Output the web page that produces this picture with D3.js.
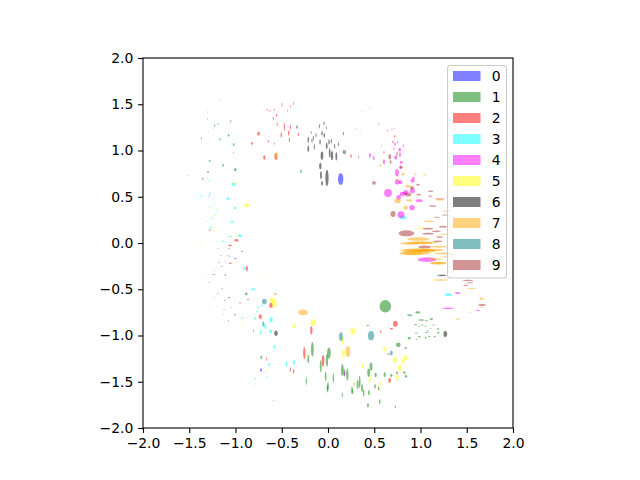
<!DOCTYPE html>
<html>
<head>
<meta charset="utf-8">
<script src="https://cdn.jsdelivr.net/npm/d3@7"></script>
<style>
  html, body { margin: 0; padding: 0; background: #fff; }
  text { font-family: "DejaVu Sans", sans-serif; }
</style>
</head>
<body>
<script>
// each row: x, y, width, height (data units)
var digit0 = [[.137,.692,.058,.13],[-1.19,-.058,.025,.005],[-1.07,-.058,.025,.008],[-.926,-.09,.03,.01],[-1.157,-.133,.02,.004],[-1.08,-.133,.02,.006],[-1.063,-.144,.02,.006],[-1,-.169,.025,.016],[-1.178,-.209,.025,.007],[-1.117,-.198,.015,.004],[-1.103,-.22,.012,.005],[-1.15,-.252,.025,.008],[-1.333,-.259,.008,.003],[-1.308,-.241,.01,.003],[-1.225,-.295,.015,.004],[-1.351,-.328,.012,.004],[-1.315,-.328,.008,.003],[-1.236,-.339,.04,.006],[-1.11,-.346,.016,.014],[-1.398,-.436,.012,.003],[-1.29,-.425,.02,.006],[-1.377,-.523,.012,.004],[-1.193,-.544,.02,.007],[-1.232,-.587,.012,.004],[-1.041,-.695,.015,.007],[-1.124,-.717,.015,.007],[-1.005,-.775,.018,.014],[-1.13,-.771,.012,.005],[-1.077,-.84,.01,.014],[-.724,-1.373,.02,.04],[-1.294,-.663,.01,.004],[-1.355,.695,.018,.016],[-1.506,.732,.015,.006],[-1.55,-.649,.01,.003],[-1.53,-.649,.01,.003],[-1.452,-.649,.01,.003],[-1.387,-.62,.01,.003],[-1.351,-.685,.01,.003],[-1.142,-1.052,.006,.004],[-1.434,-1.19,.005,.004]];
var digit1 = [[.62,-.685,.125,.135],[.76,-1.1,.05,.05],[.97,-.75,.055,.022],[1.009,-.832,.07,.016],[1.063,-.84,.04,.012],[1.117,-.822,.035,.02],[.948,-.883,.03,.012],[.984,-.9,.025,.01],[1.02,-.886,.03,.012],[1.052,-.897,.03,.01],[1.142,-.886,.025,.012],[1.189,-.93,.03,.015],[1.11,-.923,.025,.01],[1.08,-.948,.025,.012],[1.067,-.966,.03,.012],[1.193,-.969,.025,.018],[.879,-1.03,.035,.025],[.958,-1.04,.025,.01],[.987,-1.013,.03,.015],[1.056,-1.023,.02,.02],[1.095,-1.009,.03,.012],[1.153,-1.013,.025,.015],[.84,-1.135,.025,.02],[.465,-1.337,.03,.09],[.44,-1.402,.03,.09],[.515,-1.427,.025,.05],[.613,-1.423,.025,.05],[.685,-1.43,.025,.035],[.825,-1.402,.025,.03],[.843,-1.441,.025,.03],[.508,-1.55,.018,.05],[.548,-1.575,.018,.045],[.443,-1.618,.02,.06],[.559,-1.715,.018,.05],[.432,-1.755,.02,.05],[.728,-1.77,.012,.03],[.155,-1.373,.03,.13],[.209,-1.423,.025,.13],[.177,-1.405,.02,.08],[.058,-1.459,.015,.1],[0,-1.55,.02,.09],[.01,-1.19,.04,.12],[.342,-1.503,.02,.13],[.32,-1.53,.02,.1],[.368,-1.568,.02,.09],[.386,-1.62,.015,.08],[.26,-1.593,.02,.08],[.27,-1.61,.012,.05],[.155,-1.643,.012,.06],[-.169,-1.15,.03,.16],[-.213,-1.254,.02,.09],[-.011,-1.268,.025,.14],[-.079,-1.333,.02,.13],[-.025,-1.441,.018,.1],[-.234,-1.495,.012,.08],[-.007,-1.575,.015,.08],[-.721,-1.236,.018,.04],[-1.297,.768,.02,.02]];
var digit2 = [[-.562,.937,.035,.08],[-.688,.923,.025,.05],[-.75,1.182,.03,.04],[-.822,1.077,.02,.03],[-.645,1.099,.012,.03],[-.58,1.074,.012,.02],[-.505,1.168,.015,.06],[-.425,1.19,.015,.06],[-.418,1.117,.012,.06],[-.472,1.254,.012,.09],[-.407,1.25,.012,.05],[-.321,1.175,.012,.04],[-.548,1.283,.012,.035],[-.591,1.348,.012,.035],[-.555,1.38,.012,.04],[-.627,1.427,.01,.025],[-.656,1.438,.01,.02],[-.58,1.441,.01,.02],[-.497,1.495,.01,.05],[-.44,1.431,.01,.025],[-.404,1.474,.01,.025],[-.375,1.506,.01,.03],[-.18,1.193,.012,.03],[.249,.941,.015,.045],[.605,.98,.012,.03],[-.991,.029,.045,.03],[-1.279,.141,.015,.02],[-1.059,-.025,.04,.02],[-1.056,-.22,.03,.018],[-.876,-.277,.02,.065],[-1.146,-.494,.018,.012],[-.865,-.609,.025,.012],[-.616,-.674,.04,.055],[-.732,-.796,.035,.05],[-.804,-.948,.012,.02],[-.18,-.944,.025,.09],[-.256,-1.189,.025,.13],[-.054,-1.272,.03,.13],[-.407,-1.369,.012,.05],[-.371,-1.387,.015,.05],[-.667,-1.254,.01,.04],[-.677,-1.398,.01,.01],[-.591,-1.701,.008,.02],[.728,-.872,.05,.065],[.685,-.926,.035,.02],[.432,-.89,.03,.012],[.569,-.959,.018,.025],[.667,-1.485,.03,.055],[1.488,-.458,.05,.015]];
var digit3 = [[-1.02,.634,.04,.04],[-1.081,.479,.04,.03],[-1.005,.378,.03,.03],[-1.034,.227,.04,.022],[-.951,.079,.045,.03],[-1.059,.072,.04,.012],[-1.132,.018,.03,.016],[-1.279,.53,.02,.025],[-1.286,.505,.02,.012],[-1.366,.508,.025,.015],[-1.283,.67,.018,.018],[-1.301,.71,.01,.015],[-1.456,.613,.015,.008],[-1.434,.548,.015,.01],[-1.452,.486,.01,.01],[-1.323,.436,.015,.008],[-1.243,.45,.015,.01],[-1.279,.386,.018,.012],[-1.477,.386,.01,.006],[-1.2,.357,.015,.015],[-1.218,.306,.015,.012],[-1.24,.281,.012,.01],[-1.265,.263,.02,.015],[-1.348,.267,.018,.008],[-1.521,.31,.008,.006],[-1.488,.234,.008,.006],[-1.305,.234,.015,.008],[-1.265,.166,.02,.018],[.811,.277,.07,.04],[.35,1.211,.006,.02],[-.901,-.277,.035,.035],[-.81,-.501,.05,.025],[-.757,-.695,.025,.025],[-.717,-.677,.02,.02],[-.768,-.742,.02,.02],[-.786,-.814,.02,.035],[-.616,-.829,.04,.06],[-.677,-.904,.025,.055],[-.62,-.955,.03,.045],[-.728,-.969,.02,.04],[-.933,-.811,.015,.02],[-.58,-1.121,.02,.04],[-.638,-1.315,.018,.04],[-.447,-1.308,.02,.065],[-.368,-1.29,.025,.055],[-.786,-1.467,.01,.03],[-.659,-1.445,.018,.015],[-.793,-1.524,.006,.03],[-.905,-1.139,.008,.012],[1.301,-.559,.08,.03]];
var digit4 = [[.649,.541,.085,.085],[.789,.306,.075,.075],[.908,.382,.06,.055],[.912,.566,.055,.055],[.915,.674,.045,.04],[.923,.703,.03,.025],[.8,.53,.05,.05],[.764,.494,.05,.055],[.843,.548,.055,.05],[.829,.537,.04,.04],[.75,.659,.055,.055],[.786,.659,.04,.04],[.746,.76,.04,.08],[.782,.818,.02,.045],[.793,.872,.03,.035],[.732,.923,.035,.045],[.778,.955,.02,.05],[.775,1.009,.03,.04],[.714,1.02,.015,.025],[.724,1.07,.018,.04],[.814,1.052,.012,.035],[.753,1.088,.015,.025],[.605,.879,.025,.055],[.454,.948,.02,.055],[.494,.919,.02,.045],[.328,.93,.012,.03],[.645,1.214,.01,.025],[.717,1.24,.01,.02],[.692,1.225,.01,.02],[.548,1.286,.01,.02],[.306,1.24,.008,.02],[.371,1.42,.006,.015],[.458,1.459,.006,.015],[.577,1.045,.01,.015],[.166,.987,.012,.035],[.987,.458,.075,.03],[1.07,-.18,.2,.05],[1.297,-.706,.11,.02],[1.402,-.541,.06,.02],[1.618,-.728,.05,.012],[.18,-1.413,.015,.05],[-.951,-.649,.02,.015]];
var digit5 = [[-.879,.407,.05,.05],[-.998,.649,.02,.02],[-.551,.951,.02,.07],[-1.186,.371,.02,.012],[-1.232,.141,.02,.015],[-1.222,.306,.015,.012],[-.98,.076,.02,.02],[-1.369,.014,.012,.015],[-.995,-.205,.025,.012],[-1.132,-.22,.02,.01],[-.674,-.389,.02,.012],[-.602,-.62,.055,.065],[-.58,-.659,.05,.08],[-.76,-.735,.012,.02],[-.364,-.901,.04,.05],[-.159,-.861,.06,.075],[-.905,-.811,.012,.015],[-.905,-.908,.012,.015],[-1.002,-.89,.01,.01],[-.223,-1.218,.018,.06],[.267,-.951,.055,.075],[.159,-1.056,.03,.075],[.166,-1.193,.035,.085],[.375,-1.33,.025,.065],[.613,-1.146,.035,.05],[.724,-1.268,.045,.07],[.811,-1.279,.035,.055],[.84,-1.243,.04,.06],[.775,-1.348,.04,.065],[.746,-1.452,.035,.055],[.461,-1.467,.02,.05],[.447,-1.499,.015,.05],[.566,-1.524,.015,.04],[1.002,.159,.08,.015]];
var digit6 = [[-.065,.944,.03,.09],[-.083,.832,.025,.07],[-.076,.732,.02,.085],[-.011,.703,.035,.18],[-.065,.645,.02,.05],[-.213,1.117,.015,.07],[-.213,1.02,.02,.07],[-.148,1.041,.012,.06],[-.159,1.135,.012,.05],[-.13,1.164,.01,.05],[-.086,1.092,.015,.06],[-.173,1.106,.012,.04],[-.094,1.261,.01,.05],[-.043,1.294,.012,.04],[-.018,1.247,.008,.045],[-.065,1.186,.015,.05],[-.04,1.164,.015,.05],[-.014,1.049,.02,.07],[-.335,1.254,.015,.04],[.011,1.092,.015,.06],[.018,.973,.018,.1],[.043,.944,.025,.1],[.09,.937,.02,.09],[.072,1.045,.012,.06],[.036,1.099,.012,.05],[.112,1.067,.01,.05],[.166,1.182,.01,.04],[.187,.984,.012,.05],[.173,.98,.012,.05],[-1.07,-.591,.02,.015],[-1.117,-.62,.02,.01],[-.562,-.977,.04,.06],[1.268,-.984,.04,.065],[.656,-1.2,.03,.012],[.746,-1.405,.015,.03]];
var digit7 = [[.865,.613,.06,.03],[.944,.742,.03,.02],[1.045,.739,.03,.012],[.811,.746,.035,.035],[.753,.454,.07,.05],[.879,.461,.07,.025],[.84,.382,.05,.045],[.566,.84,.02,.03],[.746,.681,.03,.03],[1.214,.468,.1,.018],[1.092,.234,.12,.018],[.976,.043,.24,.04],[.99,0,.3,.03],[1.05,.005,.26,.025],[.94,-.083,.32,.03],[1.03,-.083,.28,.03],[.9,-.112,.26,.04],[1.12,-.076,.26,.03],[1.2,-.04,.2,.02],[1.192,-.22,.18,.03],[1.157,-.176,.16,.02],[1.221,-.4,.17,.018],[1.337,-.313,.1,.01],[1.553,-.49,.1,.012],[1.661,-.602,.05,.01],[1.283,.346,.1,.012],[1.25,-.112,.22,.02],[1.27,.094,.16,.012],[1.29,-.15,.16,.012],[.883,-.004,.22,.03],[.98,-.076,.34,.04],[.96,-.108,.3,.04],[1.189,-.216,.18,.02],[1.658,-.602,.05,.015],[1.668,-.695,.05,.01],[1.405,-.822,.04,.018],[1.539,-.75,.03,.006],[.281,-1.524,.02,.04],[.216,-1.175,.05,.115],[-.27,-.75,.1,.06],[-.569,-.551,.035,.025]];
var digit8 = [[-1.002,.793,.03,.035],[-1.135,.84,.02,.03],[-1.279,.886,.02,.02],[-1.023,.973,.012,.018],[-1.02,1.063,.02,.03],[-1.074,1.164,.02,.03],[-1.168,1.121,.02,.025],[-1.052,1.315,.012,.03],[-1.225,1.268,.012,.03],[-1.189,1.29,.012,.018],[-1.247,1.232,.008,.012],[-1.294,1.207,.008,.01],[-1.305,1.34,.008,.018],[-1.305,1.416,.006,.018],[-1.175,1.539,.006,.018],[-1.369,1.132,.012,.025],[-1.402,1.002,.006,.008],[-1.413,.915,.006,.01],[-1.55,.861,.006,.01],[-.292,.775,.018,.04],[-.883,-.551,.03,.03],[-.688,-.634,.05,.06],[-.699,-.876,.025,.06],[.14,-1.013,.04,.095],[.465,-1.002,.065,.1],[.685,-1.189,.03,.055],[.883,-.782,.055,.022],[.955,-.973,.035,.012],[1.225,-.35,.09,.02],[-1.495,1.51,.006,.006],[-1.416,1.55,.006,.008],[-1.434,1.24,.005,.005]];
var digit9 = [[.497,.649,.04,.04],[.667,.933,.03,.06],[.677,.876,.02,.04],[.746,.962,.015,.05],[.721,1.153,.015,.03],[.703,1.092,.015,.03],[.793,.818,.035,.03],[.865,.523,.07,.04],[.908,.598,.04,.035],[.973,.631,.04,.02],[.703,.314,.055,.065],[.847,.105,.17,.065],[.98,.523,.05,.02],[1.11,.559,.06,.015],[1.106,.505,.04,.015],[1.132,.4,.08,.018],[1.207,.479,.1,.012],[1.178,.278,.06,.012],[1.279,.303,.1,.012],[1.081,.155,.11,.02],[1.081,.101,.12,.02],[1.171,.126,.1,.018],[1.243,.177,.08,.02],[1.207,.065,.08,.015],[1.189,.018,.09,.02],[1.315,.35,.06,.01],[1.045,-.043,.14,.03],[1.243,-.35,.08,.015],[1.514,-.404,.12,.015],[1.532,-.429,.08,.012],[1.665,-.67,.08,.02],[1.333,-.126,.1,.01]];

var digits = [digit0, digit1, digit2, digit3, digit4, digit5, digit6, digit7, digit8, digit9];
var labels = ["0", "1", "2", "3", "4", "5", "6", "7", "8", "9"];
var colors = ["blue", "green", "red", "cyan", "magenta", "yellow", "black", "orange", "teal", "brown"];
var ticks = [-2, -1.5, -1, -0.5, 0, 0.5, 1, 1.5, 2];

window.onload = () => {
  var margin = {top: 58, left: 143},
  width = 370,
  height = 370;

  var x = d3.scaleLinear().domain([-2, 2]).range([0, width]);
  var y = d3.scaleLinear().domain([-2, 2]).range([height, 0]);

  var svg = d3.select("body").append("svg")
  .attr("width", 640)
  .attr("height", 480)
  .style("display", "block");

  var g = svg.append("g")
  .attr("transform", "translate(" + margin.left + "," + margin.top + ")");

  svg.append("defs").append("clipPath").attr("id", "plot")
  .append("rect").attr("width", width).attr("height", height);

  // one ellipse per sample, radius comes from the same scale as the position
  var plot = g.append("g").attr("clip-path", "url(#plot)");
  digits.forEach(function(rows, i) {
    plot.selectAll("ellipse.d" + i)
    .data(rows)
    .enter().append("ellipse")
    .attr("class", "d" + i)
    .attr("cx", function(d) { return x(d[0]); })
    .attr("cy", function(d) { return y(d[1]); })
    .attr("rx", function(d) { return (x(d[2]) - x(0)) / 2; })
    .attr("ry", function(d) { return (y(0) - y(d[3])) / 2; })
    .attr("fill", colors[i])
    .attr("fill-opacity", 0.5);
  });

  var fmt = function(d) { return d3.format(".1f")(d).replace("-", "\u2212"); };

  var xAxis = g.append("g")
  .attr("transform", "translate(0," + height + ")")
  .call(d3.axisBottom(x).tickValues(ticks).tickFormat(fmt).tickSize(4.9).tickPadding(4.8));

  var yAxis = g.append("g")
  .call(d3.axisLeft(y).tickValues(ticks).tickFormat(fmt).tickSize(4.9).tickPadding(4.8));

  [xAxis, yAxis].forEach(function(a) {
    a.selectAll(".domain").remove();
    a.selectAll(".tick line").attr("stroke", "#000").attr("stroke-width", 1.1);
    a.selectAll(".tick text").attr("fill", "#000")
    .style("font-family", '"DejaVu Sans", sans-serif').style("font-size", "13.9px");
  });

  // frame
  g.append("rect")
  .attr("width", width).attr("height", height)
  .attr("fill", "none").attr("stroke", "#000").attr("stroke-width", 1.1);

  // legend
  var legend = svg.append("g").attr("transform", "translate(447.5,65.5)");
  legend.append("rect")
  .attr("width", 59).attr("height", 212.5).attr("rx", 2.8)
  .attr("fill", "#fff").attr("fill-opacity", 0.8)
  .attr("stroke", "#ccc").attr("stroke-width", 1.1);

  var rows = legend.selectAll("g.row")
  .data(labels)
  .enter().append("g")
  .attr("class", "row")
  .attr("transform", function(d, i) { return "translate(5.5," + (5.5 + i * 21) + ")"; });

  rows.append("rect")
  .attr("width", 27.5).attr("height", 10)
  .attr("fill", function(d, i) { return colors[i]; })
  .attr("fill-opacity", 0.5);

  rows.append("text")
  .attr("x", 38.8).attr("y", 10)
  .style("font-size", "13.9px")
  .text(function(d) { return d; });
};
</script>
</body>
</html>
